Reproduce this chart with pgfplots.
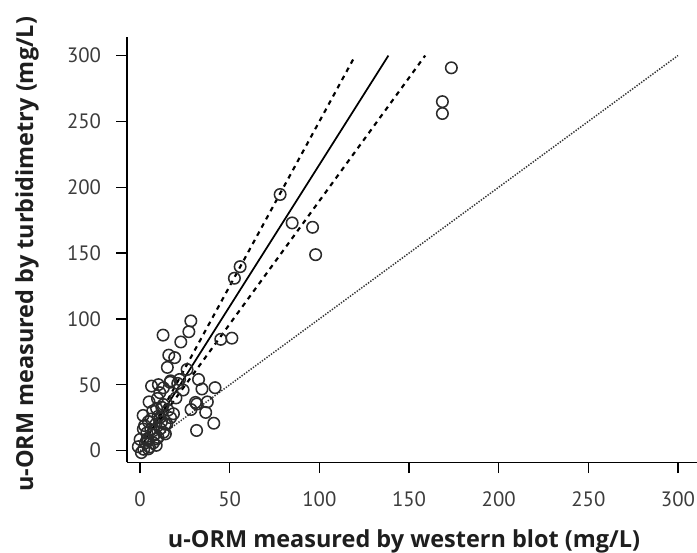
\documentclass[border=0pt]{standalone}
\usepackage{pgfplots}
\pgfplotsset{compat=1.18}
\usepackage{fontspec}
\setmainfont{PT Sans}
\newfontfamily\labfont{Open Sans}
\definecolor{tickgray}{HTML}{3C3C3C}
\definecolor{labblack}{HTML}{1E1E1E}
\definecolor{mk}{HTML}{2A2A2A}
\begin{document}
\begin{tikzpicture}
\path[use as bounding box] (0pt,0pt) rectangle (522.75pt,414.75pt);
\begin{axis}[
  at={(95.25pt,67.9pt)}, anchor=south west,
  scale only axis, width=427.5pt, height=319pt,
  xmin=-7.3, xmax=310.6, ymin=-9, ymax=314,
  axis x line=bottom, axis y line=left,
  axis line style={-, line width=1pt, black},
  xtick={0,50,...,300}, ytick={0,50,...,300},
  tick align=outside, major tick length=8pt,
  tick style={line width=0.9pt, black},
  ticklabel style={font=\fontsize{15.6}{15.6}\selectfont, text=tickgray},
  xticklabel style={anchor=north, inner sep=0pt, yshift=-13.5pt},
  yticklabel style={anchor=east, inner sep=0pt, xshift=-11.25pt},
  /pgf/number format/assume math mode=true,
  xlabel={u-ORM measured by western blot (mg/L)},
  ylabel={u-ORM measured by turbidimetry (mg/L)},
  xlabel style={at={(axis description cs:0.486,-0.2009)}, anchor=base, inner sep=0pt},
  ylabel style={at={(axis description cs:-0.1649,0.4893)}, anchor=base, inner sep=0pt},
  label style={font=\labfont\fontsize{17.6}{17.6}\selectfont\bfseries, text=labblack},
  clip=false,
]
% line of identity
\addplot[line width=1.1pt, color=black!80, dash pattern=on 1pt off 1.1pt] coordinates {(0,0) (300,300)};
% regression line
\addplot[line width=1.3pt, black] coordinates {(2,6.3) (138.5,300)};
% confidence lines
\addplot[line width=1.6pt, black, dash pattern=on 3.5pt off 3.5pt] coordinates {(8,20) (120,300)};
\addplot[line width=1.6pt, black, dash pattern=on 3.5pt off 3.5pt] coordinates {(8,17.6) (159,300)};
% data points
\addplot[only marks, mark=o, mark size=4.3pt, mark options={line width=1.15pt, draw=mk}] coordinates {
(173.6,290.7) (168.6,265) (168.6,256) (78.1,194.5) (84.8,172.9) (96.2,169.6) (97.9,148.8)
(55.8,139.7) (52.6,130.9)
(28.3,98.5) (27.2,90.3) (12.8,87.7) (22.7,82.5) (45,84.5) (51.2,85.4)
(16,72.5) (19.3,70.6) (15.2,63.2) (26.2,61.6) (32.6,54) (17,53) (22,54)
(6.4,49) (13,47.7) (34.5,46.8) (41.8,47.8)
(5,37) (9.7,39.6) (37.5,37) (30.9,36.6) (28.4,31.2) (36.6,29) (9.2,32) (15.6,30.7)
(18.6,28) (41.1,20.8) (31.5,15.3) (14.1,12.7)
(1.7,26.7) (6.2,24) (4.6,22) (11.2,16.6) (8.7,20) (2.5,19) (3.7,13.4) (0,8.5)
(-1,3) (0.7,-1.5) (7.4,5.9) (5.2,2.7) (10,10) (12,22) (8,12) (3,6) (6,16)
(10,26) (13,35) (11,44) (20,40) (24,46) (21,51) (14,20) (17,25) (9,4) (2,1)
(4,9) (7,30) (12.1,32.9) (14.9,20.3) (31.6,35.4) (1.8,16.4) (7.4,15.2) (13,13.9)
(4.6,7.6) (9.3,8.9) (4.6,1.3) (10.2,50.1) (16.7,51.9) (11.2,25.3)
};
\end{axis}
\end{tikzpicture}
\end{document}
